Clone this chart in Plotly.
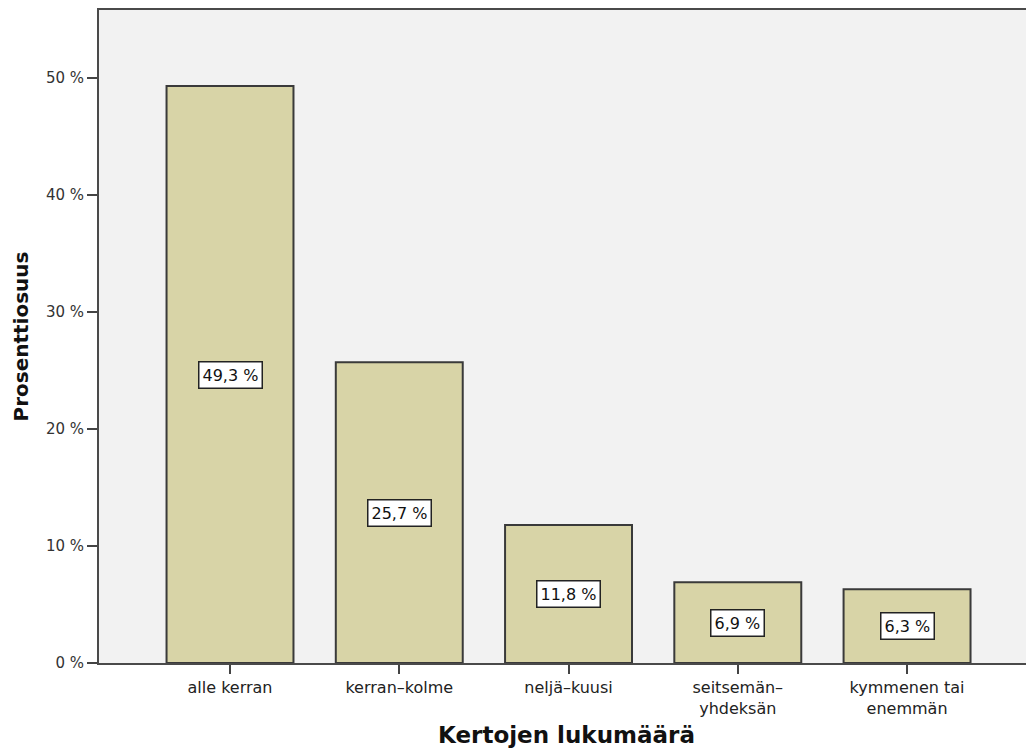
import plotly.graph_objects as go

categories = ["alle kerran", "kerran–kolme", "neljä–kuusi", "seitsemän–<br>yhdeksän", "kymmenen tai<br>enemmän"]
values = [49.3, 25.7, 11.8, 6.9, 6.3]
value_labels = ["49,3 %", "25,7 %", "11,8 %", "6,9 %", "6,3 %"]
y_ticks = [0, 10, 20, 30, 40, 50]
y_tick_labels = ["0 %", "10 %", "20 %", "30 %", "40 %", "50 %"]

x_idx = list(range(len(categories)))

fig = go.Figure()
fig.add_trace(go.Bar(
    x=x_idx, y=values, width=0.75,
    marker=dict(color="#d8d4a7", line=dict(color="#3a3a3a", width=2)),
    hoverinfo="skip",
))

for i, (v, lab) in enumerate(zip(values, value_labels)):
    fig.add_annotation(
        x=i, y=v / 2, text=lab, showarrow=False,
        font=dict(family="DejaVu Sans", size=16, color="#111"),
        bgcolor="white", bordercolor="#222", borderwidth=1.5, borderpad=3,
    )

fig.update_layout(
    width=1026, height=741,
    margin=dict(l=91, r=0, t=2, b=86),
    paper_bgcolor="white", plot_bgcolor="#f2f2f2",
    showlegend=False,
    font=dict(family="DejaVu Sans", color="#222"),
)
fig.update_xaxes(
    range=[-0.774, 4.75],
    tickmode="array", tickvals=x_idx, ticktext=categories,
    ticks="outside", ticklen=9, tickwidth=2, tickcolor="#444",
    showline=True, linecolor="#4a4a4a", linewidth=2, mirror=True,
    showgrid=False, zeroline=False,
    tickfont=dict(family="DejaVu Sans", size=16, color="#222"),
    title=dict(text="<b>Kertojen lukumäärä</b>", font=dict(family="DejaVu Sans", size=23, color="#111"), standoff=10),
)
fig.update_yaxes(
    range=[0, 55.8],
    tickmode="array", tickvals=y_ticks, ticktext=y_tick_labels,
    ticks="outside", ticklen=10, tickwidth=2, tickcolor="#444",
    showline=True, linecolor="#4a4a4a", linewidth=2,
    showgrid=False, zeroline=False,
    tickfont=dict(family="DejaVu Sans", size=15, color="#333"),
    title=dict(text="<b>Prosenttiosuus</b>", font=dict(family="DejaVu Sans", size=20, color="#111"), standoff=12),
)

fig.write_html("out.html")
